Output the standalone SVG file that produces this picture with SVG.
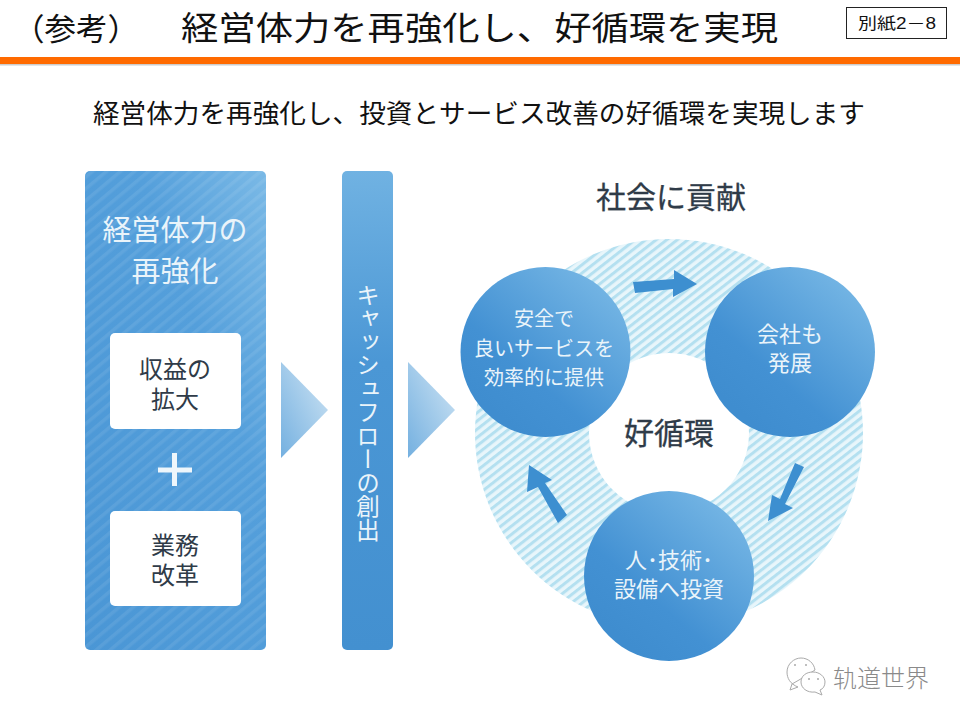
<svg xmlns="http://www.w3.org/2000/svg" width="960" height="720" viewBox="0 0 960 720">
<style>
.j{font-family:"Liberation Sans","Noto Sans CJK JP",sans-serif}
.m{text-anchor:middle}
.k{fill:#111}
.w{fill:#eaf4fa}
.d{fill:#2f3b48}
.a{fill:#3d8fd0}
.b{fill:#fff;stroke:#aaa;stroke-width:1}
</style>
<defs>
<linearGradient id="panel" x1="1" y1="0" x2="0" y2="1"><stop offset="0" stop-color="#7ab9e6"/><stop offset="0.35" stop-color="#549fdb"/><stop offset="1" stop-color="#4a96d5"/></linearGradient>
<linearGradient id="bar" x1="0" y1="0" x2="0" y2="1"><stop offset="0" stop-color="#70b2e2"/><stop offset="0.4" stop-color="#4b97d5"/><stop offset="1" stop-color="#4390d0"/></linearGradient>
<linearGradient id="tri" x1="0" y1="1" x2="1" y2="0"><stop offset="0" stop-color="#74b0e0"/><stop offset="1" stop-color="#d0e5f4"/></linearGradient>
<linearGradient id="circ" x1="0.85" y1="0.1" x2="0.2" y2="0.85"><stop offset="0" stop-color="#74b5e4"/><stop offset="0.7" stop-color="#4391d3"/><stop offset="1" stop-color="#3f8dcf"/></linearGradient>
<pattern id="hatch" width="6.500" height="6.500" patternUnits="userSpaceOnUse" patternTransform="rotate(52)"><rect width="6.500" height="6.500" fill="#e8f6fb"/><rect width="3" height="6.500" fill="#b4e0f0"/></pattern>
<pattern id="sheen" width="9" height="9" patternUnits="userSpaceOnUse" patternTransform="rotate(50)"><rect width="3.500" height="9" fill="#fff" fill-opacity="0.08"/></pattern>
</defs>
<rect width="960" height="720" fill="#fff"/>
<g id="header">
<rect x="0" y="57" width="960" height="7" fill="#ff6a00"/>
<rect x="0" y="64" width="960" height="1.500" fill="#ccc"/>
<text class="j k" x="13" y="40" font-size="31" textLength="126" lengthAdjust="spacingAndGlyphs">（参考）</text>
<text class="j k" x="181" y="40" font-size="33" textLength="597" lengthAdjust="spacingAndGlyphs">経営体力を再強化し、好循環を実現</text>
<rect x="846.500" y="7.500" width="100" height="31" fill="#fff" stroke="#222"/>
<text class="j k" x="858" y="29" font-size="16" textLength="78" lengthAdjust="spacingAndGlyphs">別紙2－8</text>
<text class="j k" x="93" y="123" font-size="26" textLength="772" lengthAdjust="spacingAndGlyphs">経営体力を再強化し、投資とサービス改善の好循環を実現します</text>
</g>
<g id="panel-left">
<rect x="85" y="171" width="181" height="479" rx="5" fill="url(#panel)"/>
<rect x="85" y="171" width="181" height="479" rx="5" fill="url(#sheen)"/>
<text class="j m w" x="175" y="241" font-size="29">経営体力の</text>
<text class="j m w" x="175" y="282" font-size="29">再強化</text>
</g>
<g id="box-revenue">
<rect x="110" y="333" width="131" height="96" rx="5" fill="#fff"/>
<text class="j m d" x="175" y="378" font-size="24">収益の</text>
<text class="j m d" x="175" y="408" font-size="24">拡大</text>
</g>
<g id="plus"><path d="M158 470H192M174.500 453V486" stroke="#eef6fb" stroke-width="5" fill="none"/></g>
<g id="box-reform">
<rect x="110" y="511" width="131" height="95" rx="5" fill="#fff"/>
<text class="j m d" x="175" y="554" font-size="24">業務</text>
<text class="j m d" x="175" y="584" font-size="24">改革</text>
</g>
<g id="panel-cash">
<rect x="342" y="171" width="51" height="479" rx="5" fill="url(#bar)"/>
<text class="j w" x="366" y="283" font-size="23.500" style="writing-mode:vertical-rl;text-orientation:upright">キャッシュフローの創出</text>
</g>
<g id="ring">
<path fill-rule="evenodd" fill="url(#hatch)" d="M475 433a194 194 0 1 0 388 0a194 194 0 1 0-388 0ZM589 433a80 80 0 1 0 160 0a80 80 0 1 0-160 0Z"/>
</g>
<g id="connectors">
<polygon points="281,362 328,410 281,458" fill="url(#tri)"/>
<polygon points="408,362 455,410 408,458" fill="url(#tri)"/>
<polygon class="a" points="633,282 674,279 674,270 697,284 673,297 673,289 635,293"/>
<polygon class="a" points="795,463 804,467 785,504 793,508 768,521 772,495 780,499"/>
<polygon class="a" points="529,465 552,480 545,483 567,515 558,523 538,487 527,492"/>
</g>
<text id="title-contrib" class="j m d" x="671" y="208" font-size="30" stroke="#2f3b48" stroke-width="0.300">社会に貢献</text>
<text id="title-cycle" class="j m d" x="669" y="444" font-size="30" stroke="#2f3b48" stroke-width="0.300">好循環</text>
<g id="circle-safe">
<circle cx="545.500" cy="352" r="85" fill="url(#circ)"/>
<text class="j m w" x="544" y="326" font-size="20">安全で</text>
<text class="j m w" x="544" y="356" font-size="20">良いサービスを</text>
<text class="j m w" x="544" y="385" font-size="20">効率的に提供</text>
</g>
<g id="circle-company">
<circle cx="790" cy="352" r="85" fill="url(#circ)"/>
<text class="j m w" x="790" y="342" font-size="22">会社も</text>
<text class="j m w" x="790" y="371" font-size="22">発展</text>
</g>
<g id="circle-invest">
<circle cx="669" cy="576" r="85" fill="url(#circ)"/>
<text class="j m w" x="669" y="568" font-size="22">人･技術･</text>
<text class="j m w" x="669" y="597" font-size="22">設備へ投資</text>
</g>
<g id="watermark">
<path class="b" d="M792 684l-2 6l8-3c-8-3-11-9-11-15c0-8 7-14 14-14c7 0 13 5 14 12l-16 10Z"/>
<path class="b" d="M813 672c7 0 12 5 12 10c0 4-2 7-5 8l2 5l-7-3c-8 1-14-4-14-10c0-6 5-10 12-10Z"/>
<circle cx="795" cy="665" r="1" fill="#aaa"/><circle cx="806" cy="665" r="1" fill="#aaa"/>
<circle cx="809" cy="679" r="1" fill="#aaa"/><circle cx="818" cy="679" r="1" fill="#aaa"/>
<text x="833" y="687" font-size="24" fill="#8a8a8a" textLength="96" lengthAdjust="spacingAndGlyphs" style="font-family:'Noto Sans CJK SC',sans-serif;font-weight:300">轨道世界</text>
</g>
</svg>
